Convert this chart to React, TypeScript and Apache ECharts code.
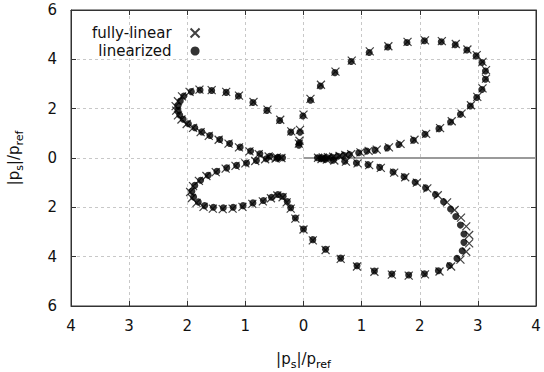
import React, { useEffect, useRef } from "react";
import * as echarts from "echarts";

// Directivity |p_s|/p_ref, upper half positive y, lower half negative y.
// Linearized model (filled circles).
const linearized: [number, number][] = [
  // right upper lobe
  [0.24, 0.01], [0.32, 0.01], [0.40, 0.02], [0.49, 0.03], [0.59, 0.07], [0.69, 0.11],
  [0.79, 0.14], [0.95, 0.21], [1.09, 0.28], [1.23, 0.32], [1.44, 0.41], [1.64, 0.55],
  [1.89, 0.72], [2.09, 0.96], [2.33, 1.19], [2.53, 1.46], [2.70, 1.77], [2.87, 2.11],
  [2.98, 2.45], [3.07, 2.78], [3.13, 3.19], [3.13, 3.53], [3.07, 3.87], [2.97, 4.14],
  [2.81, 4.38], [2.61, 4.59], [2.37, 4.71], [2.08, 4.75], [1.78, 4.68], [1.45, 4.50],
  [1.13, 4.28], [0.82, 3.91], [0.54, 3.46], [0.29, 2.92], [0.12, 2.34], [-0.01, 1.70],
  [-0.06, 1.05], [-0.07, 0.62], [-0.08, 0.52],
  // left upper lobe
  [-0.22, 1.05], [-0.41, 1.52], [-0.63, 1.93], [-0.87, 2.25], [-1.12, 2.51], [-1.33, 2.66],
  [-1.58, 2.74], [-1.78, 2.76], [-1.93, 2.69], [-2.06, 2.51], [-2.12, 2.31], [-2.16, 2.11],
  [-2.16, 1.93], [-2.13, 1.74], [-2.07, 1.57], [-1.98, 1.39], [-1.87, 1.23], [-1.75, 1.06],
  [-1.61, 0.91], [-1.44, 0.75], [-1.27, 0.59], [-1.09, 0.44], [-0.91, 0.28], [-0.75, 0.17],
  [-0.58, 0.07], [-0.44, 0.03], [-0.36, 0.01],
  // left lower lobe
  [-0.46, -0.01], [-0.64, -0.03], [-0.81, -0.10], [-0.98, -0.20], [-1.15, -0.30],
  [-1.32, -0.40], [-1.49, -0.54], [-1.64, -0.70], [-1.77, -0.90], [-1.87, -1.11],
  [-1.92, -1.35], [-1.89, -1.58], [-1.81, -1.78], [-1.70, -1.93], [-1.55, -2.00],
  [-1.38, -2.02], [-1.21, -2.00], [-1.04, -1.93], [-0.87, -1.82], [-0.69, -1.72],
  [-0.55, -1.59], [-0.44, -1.48], [-0.35, -1.55], [-0.28, -1.76], [-0.22, -2.02],
  // right lower lobe
  [-0.14, -2.43], [0.0, -2.88], [0.16, -3.31], [0.38, -3.70], [0.64, -4.06], [0.92, -4.37],
  [1.22, -4.58], [1.52, -4.70], [1.81, -4.74], [2.08, -4.69], [2.32, -4.57], [2.51, -4.36],
  [2.64, -4.07], [2.73, -3.76], [2.76, -3.42], [2.76, -3.08], [2.70, -2.72], [2.62, -2.37],
  [2.53, -2.07], [2.41, -1.77], [2.27, -1.48], [2.10, -1.21], [1.92, -0.98], [1.73, -0.76],
  [1.54, -0.57], [1.31, -0.38], [1.11, -0.27], [0.91, -0.20], [0.71, -0.13], [0.51, -0.09],
  [0.38, -0.05], [0.30, -0.03],
];

// Fully-linear model (crosses).
const fullyLinear: [number, number][] = [
  // right upper lobe
  [0.25, 0.01], [0.33, 0.02], [0.42, 0.03], [0.51, 0.05], [0.62, 0.08], [0.72, 0.12],
  [0.82, 0.16], [0.98, 0.23], [1.12, 0.29], [1.26, 0.34], [1.47, 0.43], [1.67, 0.57],
  [1.91, 0.74], [2.11, 0.98], [2.35, 1.21], [2.55, 1.49], [2.72, 1.80], [2.88, 2.14],
  [2.99, 2.48], [3.08, 2.82], [3.14, 3.22], [3.14, 3.56], [3.08, 3.90], [2.98, 4.17],
  [2.82, 4.40], [2.62, 4.62], [2.38, 4.74], [2.09, 4.77], [1.79, 4.71], [1.46, 4.53],
  [1.14, 4.32], [0.83, 3.95], [0.55, 3.50], [0.30, 2.97], [0.12, 2.40], [0.0, 1.76],
  [-0.06, 1.14], [-0.07, 0.70], [-0.08, 0.58],
  // left upper lobe
  [-0.21, 1.08], [-0.40, 1.55], [-0.62, 1.96], [-0.86, 2.27], [-1.11, 2.53], [-1.33, 2.68],
  [-1.58, 2.75], [-1.79, 2.77], [-1.96, 2.68], [-2.09, 2.50], [-2.16, 2.30], [-2.20, 2.10],
  [-2.19, 1.92], [-2.16, 1.73], [-2.10, 1.56], [-2.01, 1.38], [-1.90, 1.22], [-1.77, 1.05],
  [-1.63, 0.90], [-1.46, 0.74], [-1.29, 0.58], [-1.11, 0.43], [-0.93, 0.27], [-0.77, 0.16],
  [-0.60, 0.06], [-0.46, 0.02], [-0.38, 0.0],
  // left lower lobe
  [-0.48, -0.02], [-0.66, -0.05], [-0.83, -0.12], [-1.00, -0.22], [-1.17, -0.32],
  [-1.34, -0.43], [-1.51, -0.57], [-1.67, -0.73], [-1.80, -0.93], [-1.90, -1.14],
  [-1.95, -1.38], [-1.92, -1.62], [-1.84, -1.82], [-1.72, -1.98], [-1.56, -2.05],
  [-1.39, -2.07], [-1.22, -2.05], [-1.05, -1.98], [-0.88, -1.86], [-0.70, -1.76],
  [-0.56, -1.63], [-0.45, -1.52], [-0.36, -1.59], [-0.29, -1.80], [-0.22, -2.05],
  // right lower lobe
  [-0.14, -2.46], [0.0, -2.90], [0.16, -3.34], [0.38, -3.73], [0.64, -4.09], [0.92, -4.40],
  [1.22, -4.61], [1.52, -4.73], [1.81, -4.77], [2.09, -4.72], [2.34, -4.60], [2.54, -4.40],
  [2.70, -4.12], [2.80, -3.80], [2.85, -3.46], [2.85, -3.12], [2.80, -2.77], [2.71, -2.42],
  [2.60, -2.11], [2.47, -1.80], [2.31, -1.51], [2.13, -1.23], [1.95, -1.00], [1.75, -0.78],
  [1.56, -0.59], [1.33, -0.40], [1.13, -0.29], [0.93, -0.22], [0.73, -0.15], [0.53, -0.10],
  [0.40, -0.06], [0.31, -0.04],
];

// Reference direction at zero angle.
const referenceRay: [number, number][] = [
  [0, 0],
  [4, 0],
];

const xTicks = { min: -4, max: 4, interval: 1 };
const yTicks = { min: -6, max: 6, interval: 2 };

const FONT = "DejaVu Sans";
const nameRich = {
  s: { fontSize: 11, fontFamily: FONT, color: "#000", verticalAlign: "bottom" as const },
};

export default function App() {
  const ref = useRef<HTMLDivElement>(null);

  useEffect(() => {
    if (!ref.current) return;
    document.body.style.margin = "0";
    const chart = echarts.init(ref.current, undefined, { renderer: "svg" });

    const tickStyle = { inside: true, length: 5, lineStyle: { color: "#333" } };
    const axisLine = { onZero: false, lineStyle: { color: "#333", width: 1 } };
    const splitLine = {
      show: true,
      lineStyle: { color: "#c8c8c8", type: [3, 3] as number[], width: 1 },
    };
    const labelStyle = {
      fontFamily: FONT,
      fontSize: 15,
      color: "#111",
      formatter: (v: number) => String(Math.abs(v)),
    };

    chart.setOption({
      animation: false,
      backgroundColor: "#fff",
      grid: {
        left: 71,
        right: 8,
        top: 10,
        bottom: 66,
        outerBoundsMode: "none",
        containLabel: false,
        show: true,
        borderColor: "#333",
        borderWidth: 1,
      },
      legend: {
        orient: "vertical",
        left: 87,
        top: 20,
        align: "right",
        itemWidth: 9,
        itemHeight: 9,
        itemGap: 2,
        textStyle: {
          fontFamily: FONT,
          fontSize: 15,
          color: "#111",
          lineHeight: 16,
          padding: [0, 14, 0, 0],
        },
        data: ["fully-linear", "linearized"],
      },
      xAxis: [
        {
          type: "value",
          ...xTicks,
          position: "bottom",
          axisLine,
          axisTick: tickStyle,
          axisLabel: { ...labelStyle, margin: 12 },
          splitLine,
          name: "|p{s|s}|/p{s|ref}",
          nameLocation: "middle",
          nameGap: 42,
          nameTextStyle: {
            fontFamily: FONT,
            fontSize: 15,
            color: "#111",
            lineHeight: 22,
            rich: nameRich,
          },
        },
        {
          type: "value",
          ...xTicks,
          position: "top",
          axisLine,
          axisTick: tickStyle,
          axisLabel: { show: false },
          splitLine: { show: false },
        },
      ],
      yAxis: [
        {
          type: "value",
          ...yTicks,
          position: "left",
          axisLine,
          axisTick: tickStyle,
          axisLabel: { ...labelStyle, margin: 14 },
          splitLine,
          name: "|p{s|s}|/p{s|ref}",
          nameLocation: "middle",
          nameGap: 46,
          nameRotate: 90,
          nameTextStyle: {
            fontFamily: FONT,
            fontSize: 15,
            color: "#111",
            lineHeight: 22,
            rich: nameRich,
          },
        },
        {
          type: "value",
          ...yTicks,
          position: "right",
          axisLine,
          axisTick: tickStyle,
          axisLabel: { show: false },
          splitLine: { show: false },
        },
      ],
      series: [
        {
          type: "line",
          data: referenceRay,
          symbol: "none",
          silent: true,
          lineStyle: { color: "#9a9a9a", width: 2 },
          z: 1,
        },
        {
          name: "fully-linear",
          type: "scatter",
          data: fullyLinear,
          symbol: "path://M0,0L10,10M10,0L0,10",
          symbolSize: 8,
          itemStyle: { color: "transparent", borderColor: "#111", borderWidth: 1.2 },
          z: 3,
        },
        {
          name: "linearized",
          type: "scatter",
          data: linearized,
          symbol: "circle",
          symbolSize: 7,
          itemStyle: { color: "#000" },
          z: 4,
        },
      ],
    });

    return () => chart.dispose();
  }, []);

  return <div ref={ref} style={{ width: 544, height: 372 }} />;
}
